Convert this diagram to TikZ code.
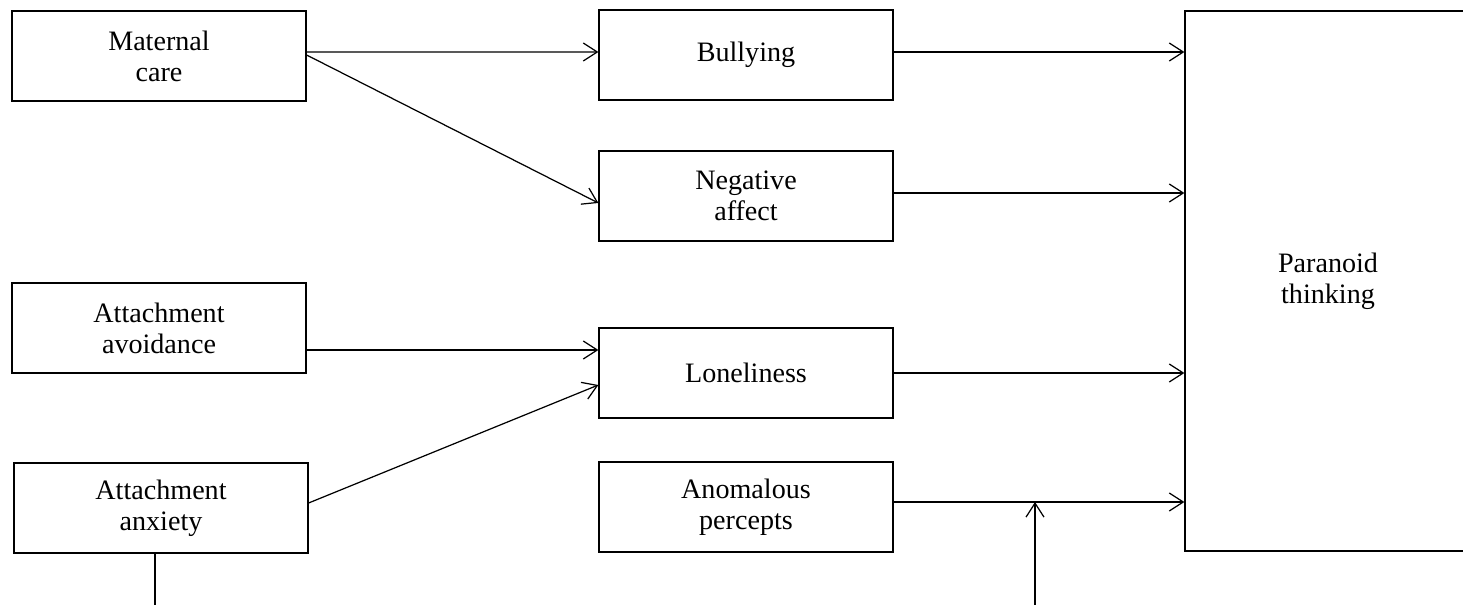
\documentclass[tikz,border=0pt]{standalone}
\usepackage{fontspec}
\setmainfont{Liberation Serif}
\usepackage{tikz}
\usetikzlibrary{arrows.meta, positioning, calc}

\begin{document}
\begin{tikzpicture}[
    box/.style={draw, line width=0.7pt, minimum width=5.88cm, minimum height=1.8cm, align=center, font=\fontsize{16}{17.6}\selectfont},
    arr/.style={-{Straight Barb[length=2.8mm, width=3.6mm]}, line width=0.7pt}
  ]
  \useasboundingbox (0, 0) rectangle (29.26, -12.1);

  % Predictors
  \node[box] (maternal) at (3.18, -1.12) {Maternal\\care};
  \node[box] (avoid) at (3.18, -6.56) {Attachment\\avoidance};
  \node[box] (anxiety) at (3.22, -10.16) {Attachment\\anxiety};

  % Mediators
  \node[box] (bully) at (14.92, -1.1) {Bullying};
  \node[box] (negaff) at (14.92, -3.92) {Negative\\affect};
  \node[box] (lonely) at (14.92, -7.46) {Loneliness};
  \node[box] (anomal) at (14.92, -10.14) {Anomalous\\percepts};

  % Outcome
  \node[box, minimum width=5.72cm, minimum height=10.8cm] (paranoid) at (26.56, -5.62) {Paranoid\\thinking};

  % Predictors to mediators
  \draw[arr] ([yshift=0.08cm]maternal.east) -- ([yshift=0.06cm]bully.west);
  \draw[arr] ([yshift=0.02cm]maternal.east) -- ([yshift=-0.14cm]negaff.west);
  \draw[arr] ([yshift=-0.44cm]avoid.east) -- ([yshift=0.46cm]lonely.west);
  \draw[arr] ([yshift=0.1cm]anxiety.east) -- ([yshift=-0.24cm]lonely.west);

  % Mediators to outcome
  \draw[arr] ([yshift=0.06cm]bully.east) -- ([yshift=0.06cm]bully.east -| paranoid.west);
  \draw[arr] ([yshift=0.06cm]negaff.east) -- ([yshift=0.06cm]negaff.east -| paranoid.west);
  \draw[arr] (lonely.east) -- (lonely.east -| paranoid.west);
  \draw[arr] ([yshift=0.1cm]anomal.east) -- ([yshift=0.1cm]anomal.east -| paranoid.west);

  % Moderation path (runs off the bottom edge)
  \coordinate (anxout) at (3.1, -12.1);
  \coordinate (modin) at (20.7, -12.1);
  \draw[line width=0.7pt] (anxiety.south -| anxout) -- (anxout);
  \draw[arr] (modin) -- ([yshift=0.1cm]modin |- anomal.east);
\end{tikzpicture}
\end{document}
